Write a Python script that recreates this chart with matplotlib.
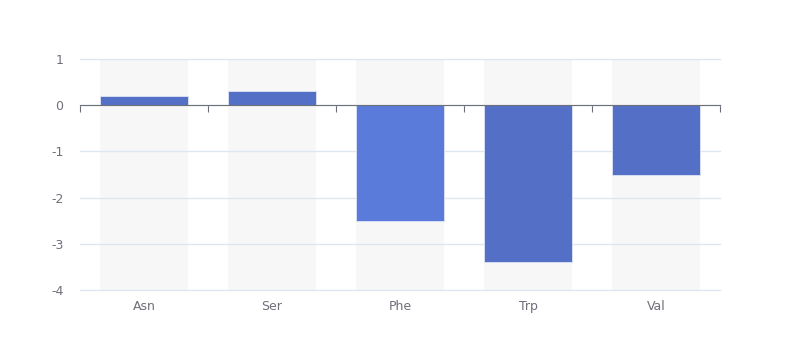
import matplotlib.pyplot as plt

plt.rcParams['axes.unicode_minus'] = False

categories = ['Asn', 'Ser', 'Phe', 'Trp', 'Val']
values = [0.2, 0.3, -2.5, -3.4, -1.5]
colors = ['#5470c6', '#5470c6', '#5b7bda', '#5470c6', '#5470c6']
y_min, y_max = -4, 1

fig = plt.figure(figsize=(8, 3.6), dpi=100)
ax = fig.add_axes([0.1, 0.1944, 0.8, 0.6417])

x = list(range(len(categories)))
# background bars
ax.bar(x, [y_max - y_min] * len(x), bottom=y_min, width=0.69,
       color='#f7f7f7', zorder=1)
ax.bar(x, values, width=0.69, color=colors, edgecolor='#dfe4f5',
       linewidth=0.6, zorder=3)

ax.set_xlim(-0.5, len(x) - 0.5)
ax.set_ylim(y_min, y_max)
ax.set_yticks(range(y_min, y_max + 1))
ax.yaxis.grid(True, color='#e0e6f1', linewidth=1)
ax.set_axisbelow('line')
for gl in ax.get_ygridlines():
    gl.set_clip_on(False)
ax.tick_params(axis='y', length=0, pad=12, labelsize=9, labelcolor='#6e7079')

for s in ['top', 'right', 'left']:
    ax.spines[s].set_visible(False)
ax.spines['bottom'].set_position(('data', 0))
ax.spines['bottom'].set_color('#6e7079')
ax.spines['bottom'].set_zorder(4)
ax.set_xticks([i - 0.5 for i in range(len(x) + 1)])
ax.set_xticklabels([])
ax.tick_params(axis='x', length=5, color='#6e7079', direction='out')

sec = ax.secondary_xaxis(0)
sec.set_xticks(x)
sec.set_xticklabels(categories)
sec.tick_params(length=0, pad=7, labelsize=9, labelcolor='#6e7079')
sec.spines['bottom'].set_visible(False)

fig.savefig('out.png', dpi=100)
